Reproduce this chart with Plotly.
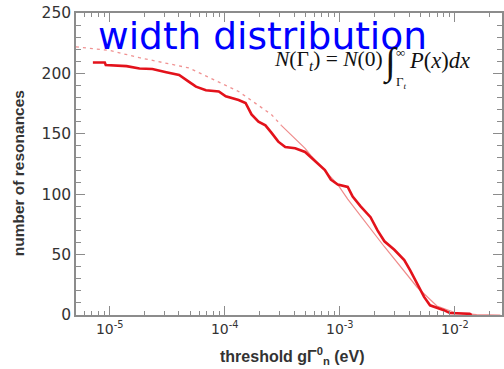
import plotly.graph_objects as go

# measured step curve: threshold (eV) vs number of resonances
step_x = [7.14e-6, 9.06e-6, 9.24e-6, 1.401e-5, 1.814e-5, 2.348e-5, 3.10e-5, 4.013e-5,
          4.895e-5, 5.623e-5, 6.859e-5, 8.877e-5, 1.020e-4, 1.320e-4, 1.517e-4,
          1.709e-4, 1.964e-4, 2.257e-4, 2.543e-4, 2.920e-4, 3.356e-4, 4.094e-4,
          4.993e-4, 6.459e-4, 7.425e-4, 8.365e-4, 9.612e-4, 1.172e-3, 1.294e-3,
          1.517e-3, 1.850e-3, 2.127e-3, 2.443e-3, 2.979e-3, 3.634e-3, 4.093e-3,
          4.703e-3, 5.404e-3, 6.087e-3, 8.04e-3, 9.06e-3, 1.347e-2, 1.40e-2]
step_y = [209, 209, 207, 206, 204, 203.6, 201, 198.7,
          193, 189, 186, 185, 181, 178, 175.5,
          166, 160, 157, 151, 143.5, 139, 138,
          135, 125, 120, 112, 108, 106, 98,
          90, 81, 70, 61, 54, 45.5, 37,
          26.5, 15, 8, 4, 1.6, 1, 0]

# fitted distribution (dashed part, then solid part)
fit_dash_x = [5.09e-6, 1.0e-5, 1.814e-5, 4.895e-5, 1.320e-4, 2.543e-4, 3.10e-4]
fit_dash_y = [222, 219, 213, 204.5, 185, 166, 157]
fit_solid_x = [3.10e-4, 4.993e-4, 5.62e-4, 6.459e-4, 9.612e-4, 1.172e-3, 1.642e-3,
               2.443e-3, 4.703e-3, 6.99e-3, 1.04e-2, 1.548e-2, 2.49e-2]
fit_solid_y = [157, 138, 132, 126, 108, 96, 78, 56.5, 23, 7.5, 1.5, 0.3, 0]

x_major = [1e-5, 1e-4, 1e-3, 1e-2]
x_major_text = ["10<sup>-5</sup>", "10<sup>-4</sup>", "10<sup>-3</sup>", "10<sup>-2</sup>"]
x_minor = [m * 10.0 ** e for e in (-6, -5, -4, -3, -2) for m in range(2, 10)]
y_major = [0, 50, 100, 150, 200, 250]

AX = "#8c8c8c"
TXT = "#333333"
SANS = "DejaVu Sans, Verdana, sans-serif"
ARIAL = "Liberation Sans, Arial, sans-serif"
SERIF = "Liberation Serif, Times New Roman, serif"

fig = go.Figure()
fig.add_trace(go.Scatter(x=fit_dash_x, y=fit_dash_y, mode="lines",
                         line=dict(color="rgba(235,110,110,0.75)", width=1.3, dash="3px,4px")))
fig.add_trace(go.Scatter(x=fit_solid_x, y=fit_solid_y, mode="lines",
                         line=dict(color="rgba(235,110,110,0.8)", width=1.2)))
fig.add_trace(go.Scatter(x=step_x, y=step_y, mode="lines",
                         line=dict(color="#e3121b", width=2.6)))

fig.update_layout(
    width=504, height=369,
    margin=dict(l=76, r=0, t=13, b=54),
    paper_bgcolor="white", plot_bgcolor="white",
    showlegend=False,
    font=dict(family=ARIAL, color=TXT),
)
fig.update_xaxes(
    type="log", range=[-5.293, -1.59],
    showgrid=False, zeroline=False,
    showline=True, linecolor=AX, linewidth=1.5, mirror="allticks",
    ticks="inside", ticklen=9, tickcolor=AX, tickwidth=1,
    tickvals=x_major, ticktext=x_major_text,
    tickfont=dict(size=14, color=TXT, family=SANS),
    minor=dict(tickvals=x_minor, ticks="inside", ticklen=4, tickcolor=AX, tickwidth=1),
)
fig.update_yaxes(
    range=[0, 250],
    showgrid=False, zeroline=False,
    showline=True, linecolor=AX, linewidth=1.5, mirror="allticks",
    ticks="inside", ticklen=9, tickcolor=AX, tickwidth=1,
    tickvals=y_major, tickfont=dict(size=15.5, color=TXT, family=SANS),
    minor=dict(dtick=10, ticks="inside", ticklen=5, tickcolor=AX, tickwidth=1),
)

def px(xp):
    return (xp - 76) / 428.0

def py(yp):
    return (315 - yp) / 302.0

ann = []
ann.append(dict(text="<b>number of resonances</b>", textangle=-90, x=px(18), y=py(173),
                xref="paper", yref="paper", showarrow=False,
                font=dict(size=15.5, color=TXT), xanchor="center", yanchor="middle"))
ann.append(dict(text="<b>threshold gΓ<sup>0</sup><sub>n</sub> (eV)</b>", x=px(293), y=py(356),
                xref="paper", yref="paper", showarrow=False,
                font=dict(size=16, color=TXT), xanchor="center", yanchor="middle"))
ann.append(dict(text="width distribution", x=px(96), y=py(36),
                xref="paper", yref="paper", showarrow=False,
                font=dict(size=37.5, color="#0000ff", family=SANS), xanchor="left", yanchor="middle"))
ann.append(dict(text="<i>N</i>(Γ<sub><i>t</i></sub>) = <i>N</i>(0)", x=px(386), y=py(60),
                xref="paper", yref="paper", showarrow=False,
                font=dict(size=21.5, color="#111111", family=SERIF), xanchor="right", yanchor="middle"))
ann.append(dict(text="∫", x=px(392), y=py(63),
                xref="paper", yref="paper", showarrow=False,
                font=dict(size=38, color="#111111", family=SERIF), xanchor="center", yanchor="middle"))
ann.append(dict(text="∞", x=px(402), y=py(52),
                xref="paper", yref="paper", showarrow=False,
                font=dict(size=13, color="#111111", family=SERIF), xanchor="center", yanchor="middle"))
ann.append(dict(text="Γ<sub><i>t</i></sub>", x=px(403), y=py(83),
                xref="paper", yref="paper", showarrow=False,
                font=dict(size=13, color="#111111", family=SERIF), xanchor="center", yanchor="middle"))
ann.append(dict(text="<i>P</i>(<i>x</i>)<i>dx</i>", x=px(409), y=py(60),
                xref="paper", yref="paper", showarrow=False,
                font=dict(size=22.5, color="#111111", family=SERIF), xanchor="left", yanchor="middle"))
fig.update_layout(annotations=ann)

fig.write_html("out.html")
